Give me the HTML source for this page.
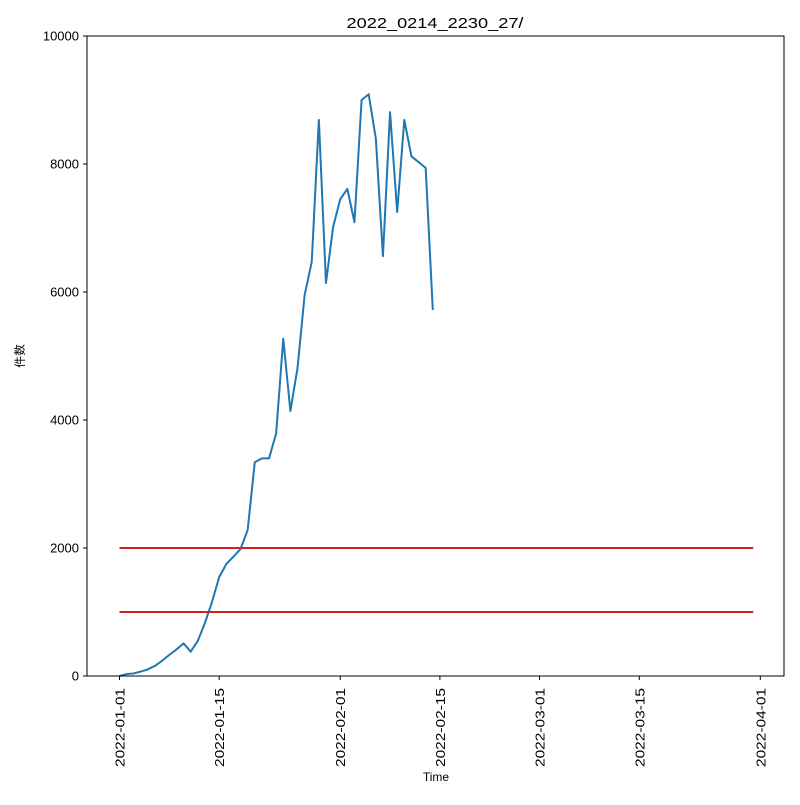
<!DOCTYPE html>
<html><head><meta charset="utf-8"><style>
html,body{margin:0;padding:0;background:#fff;}
svg text{font-family:"Liberation Sans","IPAGothic","Noto Sans CJK JP",sans-serif;fill:#000;}
</style></head><body>
<svg id="chart" width="800" height="800" xmlns="http://www.w3.org/2000/svg">
<rect width="800" height="800" fill="#fff"/>
<text x="435" y="28" font-size="15" text-anchor="middle" textLength="177" lengthAdjust="spacingAndGlyphs">2022_0214_2230_27/</text>
<text x="436" y="781" font-size="12" text-anchor="middle">Time</text>
<text transform="translate(24,356) rotate(-90)" font-size="12" text-anchor="middle">件数</text>
<g id="plot"></g>
<rect x="87" y="36" width="697" height="640" fill="none" stroke="#000" stroke-width="1"/>
</svg>
<script>
const values = [0,30,40,70,105,160,240,330,415,510,380,550,830,1160,1545,1750,1865,1985,2280,3340,3400,3400,3790,5270,4140,4810,5950,6470,8690,6140,7015,7450,7610,7090,9000,9090,8400,6560,8810,7250,8690,8120,8030,7940,5720];
const thresholds = [1000,2000];
const thresholdEndDay = 89;
const yTicks = [0,2000,4000,6000,8000,10000];
const xTickDays = [0,14,31,45,59,73,90];
const xTickLabels = ["2022-01-01","2022-01-15","2022-02-01","2022-02-15","2022-03-01","2022-03-15","2022-04-01"];

const NS="http://www.w3.org/2000/svg";
const X=d=>119.5+d*7.12;
const Y=v=>676-v*0.064;
const g=document.getElementById('plot');
function mk(t,a){const e=document.createElementNS(NS,t);for(const k in a)e.setAttribute(k,a[k]);g.appendChild(e);return e;}
yTicks.forEach(v=>{
  const t=mk('line',{x1:83,x2:87,y1:Y(v),y2:Y(v),stroke:'#000'});
  
  
  const l=mk('text',{x:79,y:Y(v)+4.5,'font-size':13,'text-anchor':'end'});
  l.textContent=v;
  
  
});
xTickDays.forEach((d,i)=>{
  const t=mk('line',{x1:X(d),x2:X(d),y1:676,y2:680,stroke:'#000'});
  
  
  const l=mk('text',{transform:`translate(${X(d)+5},688) rotate(-90)`,'font-size':13,'text-anchor':'end',textLength:79,lengthAdjust:'spacingAndGlyphs'});
  l.textContent=xTickLabels[i];
  
  
});
const p=mk('polyline',{points:values.map((v,i)=>X(i)+','+Y(v)).join(' '),fill:'none',stroke:'#1f77b4','stroke-width':2,'stroke-linejoin':'round'});


thresholds.forEach(v=>{
  const l=mk('line',{x1:X(0),x2:X(thresholdEndDay),y1:Y(v),y2:Y(v),stroke:'#d62020','stroke-width':2});
  
  
});
</script>
</body></html>
